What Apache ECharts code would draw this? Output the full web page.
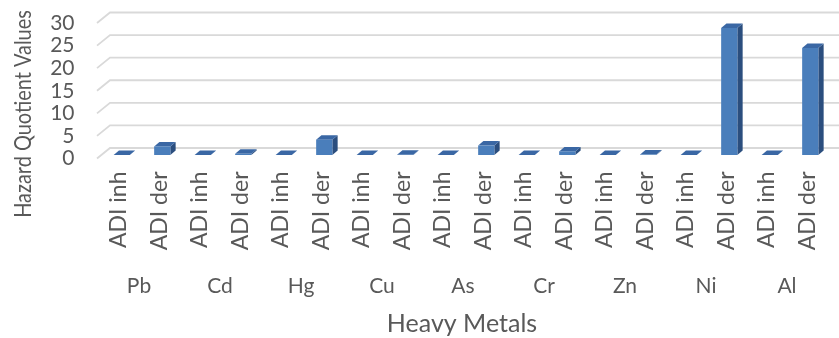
<!DOCTYPE html>
<html>
<head>
<meta charset="utf-8">
<script src="https://cdn.jsdelivr.net/npm/echarts@6/dist/echarts.min.js"></script>
<style>
  html, body { margin: 0; padding: 0; background: #ffffff; }
  #chart { width: 839px; height: 338px; }
</style>
</head>
<body>
<div id="chart"></div>
<script>
// Heavy metals and exposure routes
const metals = ['Pb', 'Cd', 'Hg', 'Cu', 'As', 'Cr', 'Zn', 'Ni', 'Al'];
const routes = ['ADI inh', 'ADI der'];

// Hazard quotient per metal, inhalation and dermal route
const adiInh = [0.002, 0.001, 0.001, 0.001, 0.003, 0.001, 0.001, 0.002, 0.001];
const adiDer = [1.9, 0.25, 3.4, 0.05, 2.1, 0.8, 0.1, 28.1, 23.7];

// Value axis ticks
const yTicks = [0, 5, 10, 15, 20, 25, 30];

// Flattened category list: each metal followed by its two routes
const categories = [];
const barData = [];
metals.forEach(function (m, i) {
  categories.push(routes[0]);
  barData.push([categories.length - 1, adiInh[i]]);
  categories.push(routes[1]);
  barData.push([categories.length - 1, adiDer[i]]);
});

const textColor = '#595959';
const fontFamily = 'Lato, "Open Sans", sans-serif';

// Perspective offsets of the pseudo-3D box
const WALL_DX = 13, WALL_DY = -10.5;   // back wall relative to the front plane
const BAR_OX = 3, BAR_OY = -3.5;       // bar front face relative to the front plane
const BAR_DX = 5.3, BAR_DY = -4.5;     // bar depth

const chart = echarts.init(document.getElementById('chart'), null, { renderer: 'canvas' });

function renderGridLine(params, api) {
  const cs = params.coordSys;
  const y = api.coord([0, api.value(0)])[1];
  const x0 = cs.x - 1.5;
  return {
    type: 'polyline',
    shape: {
      points: [
        [x0, y],
        [x0 + WALL_DX, y + WALL_DY],
        [cs.x + cs.width + WALL_DX + 20, y + WALL_DY]
      ]
    },
    style: { stroke: '#d9d9d9', lineWidth: 1.8, fill: null },
    silent: true
  };
}

function renderBar(params, api) {
  const idx = api.value(0);
  const base = api.coord([idx, 0]);
  const top = api.coord([idx, api.value(1)]);
  const w = api.size([1, 0])[0] * 0.4;
  const L = base[0] + BAR_OX - w / 2;
  const R = L + w;
  const B = base[1] + BAR_OY;
  const T = top[1] + BAR_OY;
  return {
    type: 'group',
    children: [
      {
        type: 'polygon',
        shape: { points: [[R, T], [R + BAR_DX, T + BAR_DY], [R + BAR_DX, B + BAR_DY], [R, B]] },
        style: { fill: '#2b4e7e' }
      },
      {
        type: 'polygon',
        shape: { points: [[L, T], [R, T], [R + BAR_DX, T + BAR_DY], [L + BAR_DX, T + BAR_DY]] },
        style: { fill: '#3a67a4' }
      },
      {
        type: 'rect',
        shape: { x: L, y: T, width: w, height: B - T },
        style: { fill: '#4a7ebb' }
      }
    ]
  };
}

const option = {
  backgroundColor: '#ffffff',
  animation: false,
  textStyle: { fontFamily: fontFamily },
  grid: { left: 98.5, top: 23, width: 729, height: 135.5, containLabel: false },
  xAxis: [
    {
      type: 'category',
      data: categories,
      position: 'bottom',
      axisLine: { show: false },
      axisTick: { show: false },
      splitLine: { show: false },
      axisLabel: {
        interval: 0,
        rotate: 90,
        margin: 13,
        color: textColor,
        fontSize: 23,
        fontFamily: fontFamily
      }
    },
    {
      type: 'category',
      data: metals,
      position: 'bottom',
      offset: 109,
      axisLine: { show: false },
      axisTick: { show: false },
      splitLine: { show: false },
      axisLabel: {
        interval: 0,
        margin: 8,
        color: textColor,
        fontSize: 21,
        fontFamily: fontFamily
      }
    }
  ],
  yAxis: {
    type: 'value',
    min: 0,
    max: 30,
    interval: 5,
    axisLine: { show: false },
    axisTick: { show: false },
    splitLine: { show: false },
    axisLabel: {
      margin: 24,
      color: textColor,
      fontSize: 21,
      fontFamily: fontFamily
    }
  },
  graphic: [
    {
      type: 'text',
      x: 23,
      y: 114,
      rotation: Math.PI / 2,
      scaleX: 0.83,
      style: {
        text: 'Hazard Quotient Values',
        fill: textColor,
        font: '24px ' + fontFamily,
        align: 'center',
        verticalAlign: 'middle'
      }
    },
    {
      type: 'text',
      x: 462,
      y: 324,
      style: {
        text: 'Heavy Metals',
        fill: textColor,
        font: '25px ' + fontFamily,
        align: 'center',
        verticalAlign: 'middle'
      }
    }
  ],
  series: [
    {
      type: 'custom',
      name: 'grid',
      xAxisIndex: 0,
      yAxisIndex: 0,
      data: yTicks.map(function (v) { return [v]; }),
      encode: { y: 0 },
      renderItem: renderGridLine,
      clip: false,
      silent: true,
      z: 1
    },
    {
      type: 'custom',
      name: 'Hazard Quotient',
      xAxisIndex: 0,
      yAxisIndex: 0,
      data: barData,
      encode: { x: 0, y: 1 },
      renderItem: renderBar,
      clip: false,
      z: 2
    }
  ]
};

chart.setOption(option);
</script>
</body>
</html>
